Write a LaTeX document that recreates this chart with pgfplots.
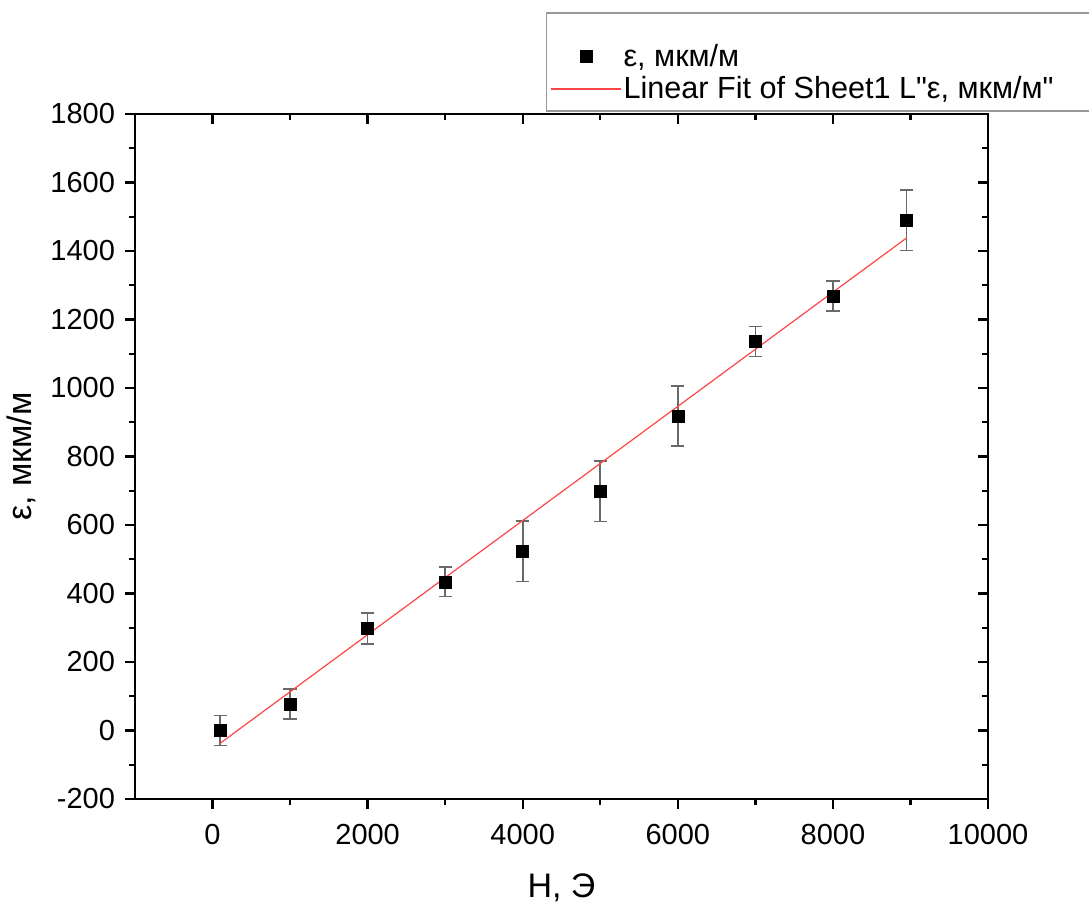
\documentclass[border=0pt]{standalone}
\usepackage{fontspec}
\setmainfont[Ligatures=TeXOff]{Liberation Sans}
\usepackage{pgfplots}
\pgfplotsset{compat=1.18}
\definecolor{fitred}{RGB}{255,70,70}
\definecolor{errgray}{RGB}{105,105,105}
\pgfplotstableread{
x y e
100 0 44
1000 77 44
2000 298 45
3000 434 43
4000 523 88
5000 698 88
6000 918 88
7000 1136 44
8000 1269 44
8950 1490 88
}\datatab
\begin{document}
\begin{tikzpicture}
\pgfplotsset{
  common/.style={
    scale only axis, width=426.5pt, height=342.5pt,
    xmin=-1000, xmax=10000, ymin=-200, ymax=1800,
    xtick={0,2000,...,10000}, ytick={-200,0,...,1800},
    minor x tick num=1, minor y tick num=1,
    at={(0,0)}, anchor=south west,
    axis line style={line width=1.3pt},
    major tick length=5pt, minor tick length=2.8pt,
    every tick/.style={black, line width=1.2pt},
    scaled x ticks=false, scaled y ticks=false,
    /pgf/number format/1000 sep={},
    /pgf/number format/assume math mode=true,
    ticklabel style={font=\fontsize{14.5}{17}\selectfont},
  }
}
\begin{axis}[common, tick align=inside, xtick pos=right, ytick pos=right,
  xticklabels={}, yticklabels={}]
\end{axis}
\begin{axis}[common, tick align=outside, xtick pos=left, ytick pos=left,
  clip=false,
  xticklabel style={yshift=-4pt},
  yticklabel style={xshift=-1.5pt},
  every axis x label/.style={at={(axis description cs:0.5,-0.0985)}, anchor=north, font=\fontsize{17}{20}\selectfont},
  every axis y label/.style={at={(axis description cs:-0.1075,0.5)}, rotate=90, anchor=south, font=\fontsize{17}{20}\selectfont},
  xlabel={H, Э}, ylabel={ε, мкм/м},
  legend cell align=left,
  legend style={draw=none, fill=none, at={(rel axis cs:0.4865,1.1080)}, anchor=north west,
    inner sep=0pt, row sep=0pt, column sep=0pt,
    nodes={inner ysep=1.8pt, inner xsep=0.9pt},
    font=\fontsize{15.3}{18}\selectfont},
]
\addplot[only marks, mark=square*, mark size=3pt,
  mark options={fill=black, draw=black, line width=0.3pt},
  legend image code/.code={\draw[mark repeat=2,mark phase=2] plot coordinates {(0pt,0pt) (17.5pt,0pt) (35pt,0pt)};},
  error bars/.cd, y dir=both, y explicit,
  error bar style={errgray, line width=0.8pt},
  error mark options={rotate=90, mark size=3.3pt, errgray, line width=0.8pt}]
  table[x=x, y=y, y error=e] {\datatab};
\addlegendentry{ε, мкм/м}
\addplot[fitred, line width=0.6pt, mark=none,
  legend image code/.code={\draw[fitred, line width=0.7pt] (0pt,0pt) -- (35pt,0pt);}]
  coordinates {(100,-37) (8950,1438)};
\addlegendentry{Linear Fit of Sheet1 L"ε, мкм/м"}
\draw[black!40, line width=0.6pt] (rel axis cs:0.4825,1.1474) rectangle (rel axis cs:1.25,1.0044);
\end{axis}
\pgfresetboundingbox
\useasboundingbox (-67.5pt,-52pt) rectangle (477pt,399.5pt);
\end{tikzpicture}
\end{document}
